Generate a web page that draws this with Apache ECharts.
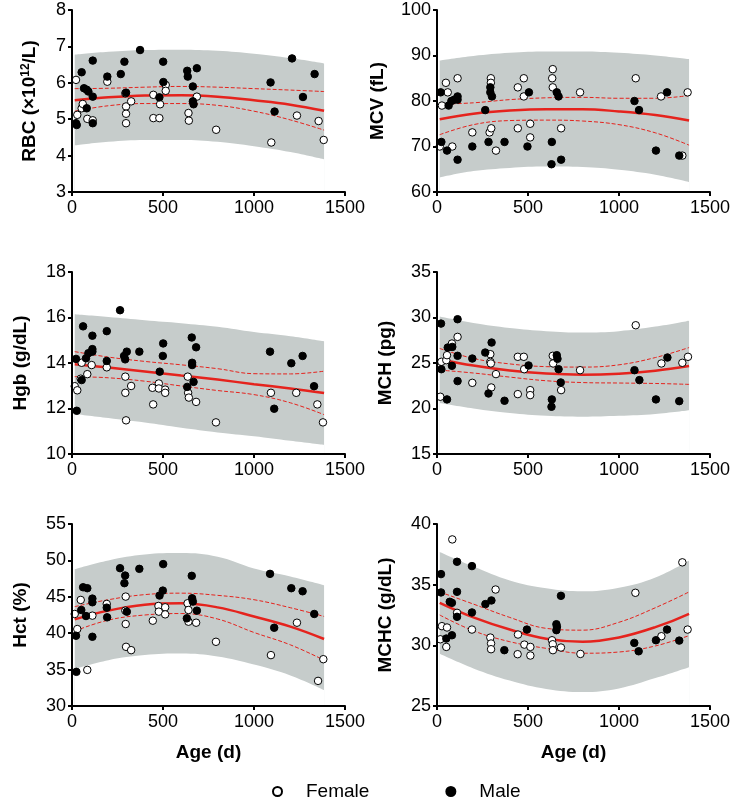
<!DOCTYPE html>
<html>
<head>
<meta charset="utf-8">
<script src="https://cdn.jsdelivr.net/npm/echarts@6/dist/echarts.min.js"></script>
<style>
html,body{margin:0;padding:0;background:#fff;}
#chart{width:743px;height:806px;}
</style>
</head>
<body>
<div id="chart"></div>
<script>
// ---------- DATA ----------
const xTicks = [0, 1500, 500];           // min, max, step of Age axis
const curveAges = [15, 200, 400, 600, 800, 1000, 1200, 1385];

// RBC (x10^12/L)
const rbcRange = [3, 8, 1];
const rbcFemale = [[22,6.08],[29,5.12],[53,5.30],[59,5.42],[84,5.01],[114,4.97],[194,6.03],[293,5.71],[297,5.35],[297,5.15],[297,4.89],[325,5.49],[447,5.67],[447,5.03],[480,5.03],[484,5.41],[515,5.94],[515,5.78],[640,5.17],[642,4.96],[686,5.62],[792,4.71],[1095,4.36],[1236,5.10],[1355,4.95],[1383,4.43]];
const rbcMale = [[22,4.89],[26,4.84],[53,6.29],[66,5.85],[81,5.81],[90,5.76],[81,5.30],[114,6.61],[114,5.62],[114,4.89],[194,6.17],[268,6.24],[288,6.58],[297,5.73],[374,6.90],[480,5.60],[501,6.58],[502,6.02],[633,6.33],[636,6.17],[664,5.90],[664,5.49],[668,5.41],[686,6.40],[1091,6.01],[1113,5.21],[1209,6.67],[1269,5.61],[1333,6.24]];
const rbcFit = [5.52, 5.60, 5.65, 5.66, 5.62, 5.52, 5.40, 5.23];
const rbcCiUpper = [5.84, 5.85, 5.88, 5.90, 5.88, 5.84, 5.80, 5.76];
const rbcCiLower = [5.22, 5.37, 5.43, 5.43, 5.38, 5.22, 4.98, 4.70];
const rbcPiUpper = [6.77, 6.85, 6.90, 6.91, 6.88, 6.80, 6.68, 6.53];
const rbcPiLower = [4.28, 4.38, 4.43, 4.43, 4.38, 4.26, 4.10, 3.90];

// MCV (fL)
const mcvRange = [60, 100, 10];
const mcvFemale = [[15,70.0],[27,79.0],[49,84.0],[59,81.9],[84,70.0],[113,85.0],[194,73.1],[289,73.1],[296,85.0],[296,84.0],[298,74.0],[324,69.1],[444,83.0],[444,74.0],[477,85.0],[477,81.0],[512,75.0],[512,72.0],[636,87.0],[633,85.0],[636,83.0],[682,74.0],[786,81.9],[1092,85.0],[1231,81.0],[1348,68.0],[1377,81.9]];
const mcvMale = [[20,81.9],[24,71.0],[55,69.1],[64,79.0],[79,80.0],[95,80.3],[113,81.0],[113,80.3],[113,67.1],[194,70.0],[265,78.0],[283,71.0],[293,83.0],[293,81.9],[302,81.0],[371,71.0],[497,70.0],[505,81.9],[631,71.0],[629,66.1],[658,81.9],[668,81.0],[682,67.1],[1085,80.0],[1110,78.0],[1203,69.1],[1264,81.9],[1331,68.0]];
const mcvFit = [76.0, 77.2, 77.9, 78.2, 78.2, 77.7, 76.9, 75.7];
const mcvCiUpper = [79.3, 79.6, 80.3, 80.7, 80.8, 80.6, 80.6, 81.2];
const mcvCiLower = [72.6, 74.8, 75.7, 75.8, 75.6, 74.8, 73.0, 70.3];
const mcvPiUpper = [88.9, 89.9, 90.6, 90.9, 90.9, 90.6, 90.0, 89.2];
const mcvPiLower = [63.2, 64.6, 65.3, 65.6, 65.5, 64.9, 63.8, 62.2];

// Hgb (g/dL)
const hgbRange = [10, 18, 2];
const hgbFemale = [[15,12.98],[29,12.80],[48,13.31],[53,14.01],[84,13.51],[108,13.91],[191,13.81],[293,13.40],[293,12.69],[297,11.48],[325,12.99],[442,12.91],[446,12.18],[477,13.10],[477,12.88],[512,12.83],[512,12.69],[636,13.40],[638,12.69],[642,12.48],[682,12.29],[791,11.39],[1093,12.69],[1232,12.69],[1348,12.18],[1379,11.39]];
const hgbMale = [[22,14.18],[26,11.90],[61,15.61],[53,13.25],[77,14.21],[90,14.43],[112,15.20],[112,14.61],[112,14.50],[191,15.40],[191,14.09],[264,16.32],[286,14.31],[292,14.16],[301,14.50],[370,14.50],[482,13.62],[499,14.31],[501,14.86],[633,12.95],[658,15.12],[660,14.01],[660,13.91],[668,13.17],[682,14.69],[1088,14.50],[1111,11.99],[1205,13.99],[1267,14.31],[1330,12.98]];
const hgbFit = [13.95, 13.80, 13.63, 13.45, 13.27, 13.07, 12.88, 12.68];
const hgbCiUpper = [14.50, 14.26, 14.07, 13.92, 13.75, 13.53, 13.52, 13.64];
const hgbCiLower = [13.40, 13.35, 13.20, 12.99, 12.79, 12.61, 12.25, 11.73];
const hgbPiUpper = [16.14, 16.02, 15.88, 15.75, 15.59, 15.36, 15.18, 14.96];
const hgbPiLower = [11.76, 11.58, 11.38, 11.15, 10.95, 10.78, 10.58, 10.40];

// MCH (pg)
const mchRange = [15, 35, 5];
const mchFemale = [[18,21.29],[24,25.13],[51,25.31],[55,25.86],[82,27.14],[113,27.87],[194,22.82],[293,25.97],[293,25.13],[296,24.95],[298,22.31],[324,23.78],[444,25.68],[444,21.58],[477,25.68],[479,24.32],[512,22.02],[512,21.47],[636,25.79],[638,24.95],[682,22.02],[786,24.21],[1092,29.15],[1233,24.95],[1348,25.02],[1379,25.68]];
const mchMale = [[22,29.33],[24,24.32],[55,21.0],[59,26.70],[82,24.69],[84,26.77],[113,29.81],[113,25.79],[113,23.01],[194,25.49],[265,26.15],[283,21.65],[300,27.25],[371,20.85],[503,24.73],[631,21.0],[629,20.19],[658,25.86],[662,25.46],[668,24.32],[680,22.86],[1085,24.21],[1112,23.12],[1203,21.0],[1266,25.6],[1331,20.81]];
const mchFit = [25.42, 24.72, 24.17, 23.84, 23.72, 23.83, 24.16, 24.67];
const mchCiUpper = [26.6, 25.5, 24.9, 24.6, 24.55, 24.8, 25.6, 26.7];
const mchCiLower = [24.22, 23.9, 23.45, 23.05, 22.85, 22.8, 22.75, 22.65];
const mchPiUpper = [30.1, 29.4, 28.85, 28.5, 28.35, 28.5, 29.0, 29.65];
const mchPiLower = [20.6, 20.0, 19.5, 19.2, 19.1, 19.2, 19.4, 19.8];

// Hct (%)
const hctRange = [30, 55, 5];
const hctFemale = [[15,42.64],[29,40.57],[48,44.57],[84,34.96],[112,42.41],[191,44.02],[295,45.03],[293,43.1],[295,41.26],[297,38.13],[325,37.67],[444,41.72],[475,43.74],[477,42.96],[512,43.56],[512,42.59],[635,44.11],[640,43.19],[640,41.58],[682,41.44],[791,38.82],[1093,36.99],[1236,41.44],[1352,33.45],[1381,36.43]];
const hctMale = [[22,39.65],[24,34.69],[51,43.19],[61,46.31],[77,42.36],[84,46.18],[112,44.75],[112,44.25],[112,39.51],[191,43.51],[193,42.18],[264,48.93],[292,47.92],[288,46.87],[301,42.96],[370,48.84],[481,45.17],[499,45.85],[501,49.49],[631,42.04],[658,47.88],[660,44.8],[664,44.34],[686,43.1],[1088,48.15],[1111,40.75],[1205,46.18],[1267,45.76],[1331,42.64]];
const hctFit = [41.9, 43.1, 43.9, 44.1, 43.55, 42.3, 40.9, 39.2];
const hctCiUpper = [43.65, 44.6, 45.3, 45.5, 45.2, 44.6, 43.5, 42.3];
const hctCiLower = [40.3, 41.8, 42.5, 42.7, 41.95, 40.1, 38.4, 36.3];
const hctPiUpper = [48.8, 50.0, 50.8, 51.0, 50.5, 48.9, 47.8, 46.6];
const hctPiLower = [35.1, 36.3, 37.0, 37.2, 36.8, 35.7, 34.2, 32.2];

// MCHC (g/dL)
const mchcRange = [25, 40, 5];
const mchcFemale = [[18,30.5],[27,31.58],[51,29.87],[55,31.47],[84,38.73],[110,32.68],[192,31.3],[293,30.64],[297,30.15],[297,29.68],[322,34.6],[445,30.89],[443,29.27],[480,30.06],[513,29.87],[513,29.16],[632,30.42],[636,30.09],[637,29.6],[681,29.82],[788,29.29],[1090,34.33],[1233,30.75],[1348,36.84],[1377,31.3]];
const mchcMale = [[22,35.87],[22,34.36],[51,30.56],[70,33.59],[82,33.5],[82,30.83],[110,36.89],[110,34.41],[110,32.35],[192,36.53],[192,32.71],[266,33.4],[299,33.7],[370,29.6],[494,31.3],[656,31.74],[659,31.52],[656,31.25],[681,34.08],[1084,30.2],[1108,29.51],[1203,30.42],[1264,31.3],[1331,30.39]];
const mchcFit = [33.5, 32.3, 31.3, 30.55, 30.3, 30.65, 31.5, 32.6];
const mchcCiUpper = [34.4, 33.4, 32.3, 31.4, 31.25, 31.9, 33.1, 34.4];
const mchcCiLower = [32.5, 31.2, 30.3, 29.75, 29.35, 29.45, 29.95, 30.8];
const mchcPiUpper = [37.7, 36.5, 35.35, 34.7, 34.45, 34.75, 35.6, 37.0];
const mchcPiLower = [29.3, 28.1, 27.1, 26.4, 26.15, 26.45, 27.3, 28.2];

const legendNames = ['Female', 'Male'];

// ---------- PANELS ----------
const panels = [
  {title:'{a|RBC (×10}{s|12}{a|/L)}', range:rbcRange, f:rbcFemale, m:rbcMale, fit:rbcFit, cu:rbcCiUpper, cl:rbcCiLower, pu:rbcPiUpper, pl:rbcPiLower},
  {title:'{a|MCV (fL)}', range:mcvRange, f:mcvFemale, m:mcvMale, fit:mcvFit, cu:mcvCiUpper, cl:mcvCiLower, pu:mcvPiUpper, pl:mcvPiLower},
  {title:'{a|Hgb (g/dL)}', range:hgbRange, f:hgbFemale, m:hgbMale, fit:hgbFit, cu:hgbCiUpper, cl:hgbCiLower, pu:hgbPiUpper, pl:hgbPiLower},
  {title:'{a|MCH (pg)}', range:mchRange, f:mchFemale, m:mchMale, fit:mchFit, cu:mchCiUpper, cl:mchCiLower, pu:mchPiUpper, pl:mchPiLower},
  {title:'{a|Hct (%)}', range:hctRange, f:hctFemale, m:hctMale, fit:hctFit, cu:hctCiUpper, cl:hctCiLower, pu:hctPiUpper, pl:hctPiLower},
  {title:'{a|MCHC (g/dL)}', range:mchcRange, f:mchcFemale, m:mchcMale, fit:mchcFit, cu:mchcCiUpper, cl:mchcCiLower, pu:mchcPiUpper, pl:mchcPiLower}
];
const layout = [
  {left:72, top:10, gap:32},
  {left:437, top:10, gap:50},
  {left:72, top:272, gap:42},
  {left:437, top:272, gap:42},
  {left:72, top:524, gap:42},
  {left:437, top:524, gap:42}
];

const FONT = '"Liberation Sans", Arial, Helvetica, sans-serif';
const RED = '#e5231d';
const BAND = '#c6cccb';

const grids = [], xAxes = [], yAxes = [], series = [];
panels.forEach((p, i) => {
  const L = layout[i];
  grids.push({left:L.left, top:L.top, width:273, height:182, containLabel:false});
  const bottomRow = i >= 4;
  const axisCommon = {
    z:10,
    axisLine:{show:true, onZero:false, lineStyle:{color:'#000', width:2}},
    axisTick:{show:true, inside:false, length:4, lineStyle:{color:'#000', width:2}},
    splitLine:{show:false},
  };
  xAxes.push(Object.assign({}, axisCommon, {
    type:'value', gridIndex:i, min:xTicks[0], max:xTicks[1], interval:xTicks[2],
    axisLabel:{color:'#000', fontSize:18, fontFamily:FONT, margin:7, formatter:v => String(v)},
    name: bottomRow ? 'Age (d)' : '', nameLocation:'middle', nameGap:37,
    nameTextStyle:{color:'#000', fontSize:19, fontWeight:'bold', fontFamily:FONT}
  }));
  yAxes.push(Object.assign({}, axisCommon, {
    type:'value', gridIndex:i, min:p.range[0], max:p.range[1], interval:p.range[2],
    axisLabel:{color:'#000', fontSize:18, fontFamily:FONT, margin:6, formatter:v => String(v)},
    name:p.title, nameLocation:'middle', nameGap:L.gap, nameRotate:90,
    nameTextStyle:{color:'#000', fontFamily:FONT,
      rich:{a:{fontSize:19, fontWeight:'bold', fontFamily:FONT, color:'#000'},
            s:{fontSize:12, fontWeight:'bold', fontFamily:FONT, color:'#000', verticalAlign:'top', padding:[0,0,8,0]}}}
  }));
  const pair = arr => curveAges.map((a, k) => [a, arr[k]]);
  // prediction band: grey fill under upper limit, white fill under lower limit
  series.push({type:'line', name:'pi-up-'+i, xAxisIndex:i, yAxisIndex:i, data:pair(p.pu),
    smooth:0.4, symbol:'none', lineStyle:{opacity:0}, areaStyle:{color:BAND, opacity:1, origin:'start'}, silent:true, z:1});
  series.push({type:'line', name:'pi-low-'+i, xAxisIndex:i, yAxisIndex:i, data:pair(p.pl),
    smooth:0.4, symbol:'none', lineStyle:{opacity:0}, areaStyle:{color:'#ffffff', opacity:1, origin:'start'}, silent:true, z:1.5});
  series.push({type:'line', name:'ci-up-'+i, xAxisIndex:i, yAxisIndex:i, data:pair(p.cu),
    smooth:0.4, symbol:'none', lineStyle:{color:RED, width:1, type:[4,2]}, silent:true, z:2});
  series.push({type:'line', name:'ci-low-'+i, xAxisIndex:i, yAxisIndex:i, data:pair(p.cl),
    smooth:0.4, symbol:'none', lineStyle:{color:RED, width:1, type:[4,2]}, silent:true, z:2});
  series.push({type:'line', name:'fit-'+i, xAxisIndex:i, yAxisIndex:i, data:pair(p.fit),
    smooth:0.4, symbol:'none', lineStyle:{color:RED, width:2.5}, silent:true, z:3});
  series.push({type:'scatter', name:legendNames[0], xAxisIndex:i, yAxisIndex:i, data:p.f,
    symbol:'circle', symbolSize:7.5, itemStyle:{color:'#fff', borderColor:'#000', borderWidth:1, opacity:1}, z:5});
  series.push({type:'scatter', name:legendNames[1], xAxisIndex:i, yAxisIndex:i, data:p.m,
    symbol:'circle', symbolSize:7.5, itemStyle:{color:'#000', borderColor:'#000', borderWidth:1, opacity:1}, z:5});
});

const chart = echarts.init(document.getElementById('chart'), null, {renderer:'canvas'});
chart.setOption({
  backgroundColor:'#fff',
  animation:false,
  grid:grids,
  xAxis:xAxes,
  yAxis:yAxes,
  series:series,
  legend:{
    data:legendNames, left:272, top:782, padding:0, itemGap:76,
    icon:'circle', itemWidth:9, itemHeight:9,
    textStyle:{color:'#000', fontSize:19, fontFamily:FONT, padding:[0,0,0,19]},
    selectedMode:false
  }
});
</script>
</body>
</html>
